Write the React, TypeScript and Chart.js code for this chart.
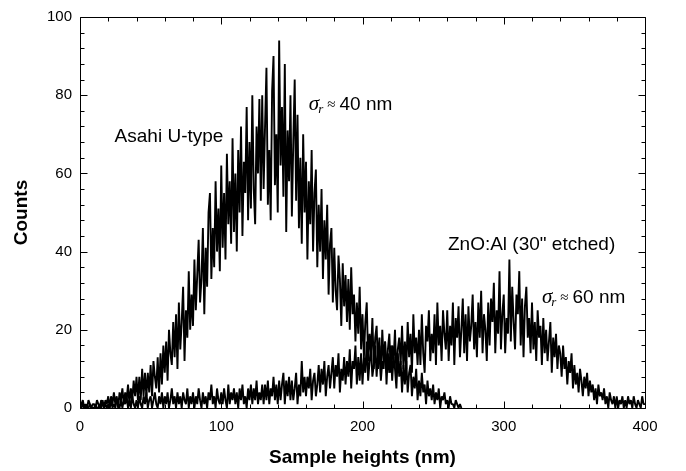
import React, { useEffect, useRef } from "react";
import { Chart, registerables } from "chart.js";

Chart.register(...registerables);

// Histogram bins (nm)
const BIN_START_NM = 0;
const BIN_WIDTH_NM = 1;

// Asahi U-type, counts per 1 nm bin from 0 to 270 nm
const ASAHI_COUNTS = [
  0, 1, 2, 0, 1, 0, 2, 1, 0, 1,
  1, 0, 2, 1, 0, 2, 1, 0, 2, 1,
  3, 0, 3, 1, 4, 1, 3, 0, 4, 2,
  5, 1, 4, 2, 6, 1, 5, 2, 7, 3,
  8, 2, 8, 2, 10, 3, 9, 3, 9, 4,
  11, 3, 12, 8, 5, 13, 4, 14, 6, 16,
  9, 17, 7, 20, 14, 11, 22, 13, 24, 10,
  27, 15, 22, 31, 12, 25, 18, 35, 20, 29,
  21, 38, 25, 34, 43, 27, 33, 46, 24, 41,
  31, 50, 55, 33, 46, 36, 58, 40, 51, 35,
  62, 41, 55, 38, 65, 47, 58, 42, 69, 45,
  60, 40, 66, 50, 72, 44, 63, 55, 77, 48,
  68, 51, 80, 56, 47, 72, 60, 79, 53, 80,
  56, 72, 87, 52, 66, 48, 81, 90, 57, 70,
  50, 94, 62, 77, 54, 88, 45, 71, 58, 80,
  49, 68, 84, 53, 75, 46, 64, 42, 70, 50,
  63, 38, 58, 47, 66, 40, 55, 61, 36, 52,
  40, 56, 33, 48, 38, 52, 29, 42, 46, 27,
  41, 30, 25, 39, 33, 21, 37, 26, 34, 22,
  33, 20, 36, 24, 29, 17, 27, 19, 31, 15,
  24, 13, 22, 27, 12, 19, 14, 23, 10, 18,
  21, 10, 16, 8, 20, 12, 17, 6, 14, 9,
  16, 7, 13, 10, 5, 14, 8, 12, 4, 11,
  6, 12, 4, 9, 11, 3, 8, 5, 10, 2,
  7, 3, 9, 4, 6, 1, 7, 3, 5, 2,
  6, 1, 4, 2, 5, 0, 3, 2, 4, 1,
  2, 0, 3, 1, 1, 0, 2, 1, 0, 1, 0,
];

// ZnO:Al (30" etched), counts per 1 nm bin from 0 to 400 nm
const ZNO_COUNTS = [
  0, 0, 1, 0, 0, 0, 0, 1, 0, 0,
  0, 1, 0, 0, 1, 0, 2, 0, 1, 0,
  1, 0, 2, 0, 1, 0, 2, 1, 0, 2,
  0, 2, 1, 3, 0, 2, 0, 3, 1, 0,
  2, 0, 3, 1, 0, 3, 1, 4, 0, 2,
  3, 0, 2, 4, 1, 0, 3, 1, 4, 0,
  3, 1, 4, 0, 2, 5, 1, 3, 0, 4,
  1, 3, 0, 4, 2, 1, 5, 0, 3, 1,
  4, 0, 3, 1, 5, 2, 0, 4, 1, 3,
  0, 4, 2, 6, 1, 3, 0, 5, 2, 1,
  4, 1, 5, 2, 0, 6, 1, 4, 2, 5,
  1, 4, 0, 5, 2, 6, 1, 3, 0, 5,
  2, 6, 1, 5, 2, 7, 1, 4, 2, 6,
  1, 6, 2, 7, 1, 5, 3, 8, 2, 6,
  1, 7, 2, 6, 9, 1, 7, 3, 8, 2,
  7, 2, 5, 9, 1, 6, 3, 12, 4, 8,
  3, 8, 5, 10, 2, 7, 9, 3, 6, 11,
  4, 10, 6, 12, 3, 8, 11, 5, 9, 13,
  5, 11, 8, 14, 4, 10, 7, 13, 6, 12,
  8, 15, 5, 12, 10, 16, 6, 13, 7, 14,
  6, 13, 9, 17, 7, 12, 15, 8, 11, 16,
  8, 14, 18, 7, 12, 10, 17, 9, 15, 19,
  9, 16, 12, 20, 8, 15, 18, 11, 21, 10,
  17, 10, 22, 13, 19, 9, 24, 14, 18, 11,
  20, 11, 24, 14, 9, 21, 17, 25, 12, 19,
  14, 24, 11, 27, 16, 21, 12, 25, 19, 15,
  25, 12, 21, 16, 27, 11, 23, 18, 26, 13,
  20, 28, 14, 24, 12, 26, 17, 21, 29, 15,
  22, 13, 27, 18, 30, 14, 24, 20, 12, 27,
  16, 28, 22, 32, 14, 25, 19, 35, 15, 24,
  29, 14, 23, 19, 38, 17, 31, 22, 15, 29,
  24, 35, 16, 28, 13, 26, 31, 18, 23, 14,
  27, 15, 22, 12, 25, 18, 21, 11, 23, 14,
  20, 12, 17, 22, 9, 18, 13, 19, 10, 16,
  14, 8, 16, 10, 13, 6, 12, 9, 14, 5,
  11, 6, 9, 4, 10, 7, 3, 8, 5, 9,
  3, 7, 4, 6, 2, 5, 1, 6, 3, 4,
  2, 5, 1, 3, 0, 4, 2, 1, 3, 0,
  3, 0, 2, 1, 3, 0, 2, 0, 3, 1,
  2, 0, 3, 1, 0, 2, 1, 0, 3, 1,
  1,
];

// Axis ranges and tick settings
const X_MIN = 0;
const X_MAX = 400;
const X_MAJOR_STEP = 100;
const X_MINOR_STEP = 20;
const Y_MIN = 0;
const Y_MAX = 100;
const Y_MAJOR_STEP = 20;
const Y_MINOR_STEP = 4;

const X_TITLE = "Sample heights (nm)";
const Y_TITLE = "Counts";

// Text annotations, anchored in data coordinates (nm, counts)
const PLAIN_LABELS = [
  { text: "Asahi U-type", x: 24.5, y: 69.3 },
  { text: 'ZnO:Al (30" etched)', x: 260.5, y: 41.8 },
];
const SIGMA_LABELS = [
  { value: "40 nm", x: 162, y: 77.6 },
  { value: "60 nm", x: 327, y: 28.2 },
];

const SANS = "'Liberation Sans', Arial, Helvetica, sans-serif";
const SERIF = "'Liberation Serif', 'Times New Roman', serif";

const toPoints = (counts: number[]) =>
  counts.map((c, i) => ({ x: BIN_START_NM + i * BIN_WIDTH_NM, y: c }));

const frameAndLabels = {
  id: "frameAndLabels",
  afterDatasetsDraw(chart: any) {
    const { ctx, chartArea, scales } = chart;
    const xs = scales.x;
    const ys = scales.y;
    const L = Math.round(chartArea.left) + 0.5;
    const R = Math.round(chartArea.right) + 0.5;
    const T = Math.round(chartArea.top) + 0.5;
    const B = Math.round(chartArea.bottom) + 0.5;
    ctx.save();
    ctx.strokeStyle = "#000";
    ctx.lineWidth = 1;
    ctx.beginPath();
    ctx.rect(L, T, R - L, B - T);
    ctx.stroke();

    ctx.beginPath();
    for (let v = X_MIN; v <= X_MAX; v += X_MINOR_STEP) {
      const px = Math.round(xs.getPixelForValue(v)) + 0.5;
      const len = v % X_MAJOR_STEP === 0 ? 7 : 4;
      ctx.moveTo(px, B);
      ctx.lineTo(px, B - len);
      ctx.moveTo(px, T);
      ctx.lineTo(px, T + len);
    }
    for (let v = Y_MIN; v <= Y_MAX; v += Y_MINOR_STEP) {
      const py = Math.round(ys.getPixelForValue(v)) + 0.5;
      const len = v % Y_MAJOR_STEP === 0 ? 7 : 4;
      ctx.moveTo(L, py);
      ctx.lineTo(L + len, py);
      ctx.moveTo(R, py);
      ctx.lineTo(R - len, py);
    }
    ctx.stroke();

    ctx.fillStyle = "#000";
    ctx.textBaseline = "middle";
    ctx.textAlign = "left";
    for (const lab of PLAIN_LABELS) {
      ctx.font = `19px ${SANS}`;
      ctx.fillText(lab.text, xs.getPixelForValue(lab.x), ys.getPixelForValue(lab.y));
    }
    for (const lab of SIGMA_LABELS) {
      let px = xs.getPixelForValue(lab.x);
      const py = ys.getPixelForValue(lab.y);
      ctx.font = `italic 21px ${SERIF}`;
      ctx.fillText("\u03C3", px, py);
      px += ctx.measureText("\u03C3").width;
      ctx.font = `italic 13px ${SERIF}`;
      ctx.fillText("r", px - 1, py + 5);
      px += ctx.measureText("r").width + 3;
      ctx.font = `15px ${SERIF}`;
      ctx.fillText("\u2248", px, py);
      px += ctx.measureText("\u2248").width + 4;
      ctx.font = `19px ${SANS}`;
      ctx.fillText(lab.value, px, py);
    }
    ctx.restore();
  },
};

export default function App() {
  const canvasRef = useRef<HTMLCanvasElement | null>(null);

  useEffect(() => {
    document.body.style.margin = "0";
    const canvas = canvasRef.current;
    if (!canvas) return;
    const lineStyle = {
      borderColor: "#000",
      borderWidth: 1.9,
      borderJoinStyle: "bevel" as const,
      pointRadius: 0,
      fill: false,
      tension: 0,
    };
    const chart = new Chart(canvas, {
      type: "line",
      data: {
        datasets: [
          { label: "Asahi U-type", data: toPoints(ASAHI_COUNTS), ...lineStyle },
          { label: 'ZnO:Al (30" etched)', data: toPoints(ZNO_COUNTS), ...lineStyle },
        ],
      },
      options: {
        responsive: false,
        animation: false,
        devicePixelRatio: 1,
        events: [],
        layout: { padding: { top: 13, right: 41, bottom: 0, left: 0 } },
        plugins: {
          legend: { display: false },
          tooltip: { enabled: false },
        },
        scales: {
          x: {
            type: "linear",
            min: X_MIN,
            max: X_MAX,
            afterFit: (s: any) => {
              s.height = 63;
            },
            grid: { display: false, drawTicks: false },
            border: { display: false },
            ticks: {
              stepSize: X_MAJOR_STEP,
              padding: 10,
              color: "#000",
              font: { family: SANS, size: 15 },
            },
            title: {
              display: true,
              text: X_TITLE,
              color: "#000",
              font: { family: SANS, size: 19, weight: "bold" },
              padding: { top: 0, bottom: 2 },
            },
          },
          y: {
            type: "linear",
            min: Y_MIN,
            max: Y_MAX,
            afterFit: (s: any) => {
              s.width = 80;
            },
            grid: { display: false, drawTicks: false },
            border: { display: false },
            ticks: {
              stepSize: Y_MAJOR_STEP,
              padding: 8,
              color: "#000",
              font: { family: SANS, size: 15 },
            },
            title: {
              display: true,
              text: Y_TITLE,
              color: "#000",
              font: { family: SANS, size: 19, weight: "bold" },
              padding: { top: 10, bottom: 0 },
            },
          },
        },
      },
      plugins: [frameAndLabels],
    });
    return () => chart.destroy();
  }, []);

  return (
    <div style={{ width: 686, height: 471, background: "#fff" }}>
      <canvas ref={canvasRef} width={686} height={471} style={{ display: "block" }} />
    </div>
  );
}
